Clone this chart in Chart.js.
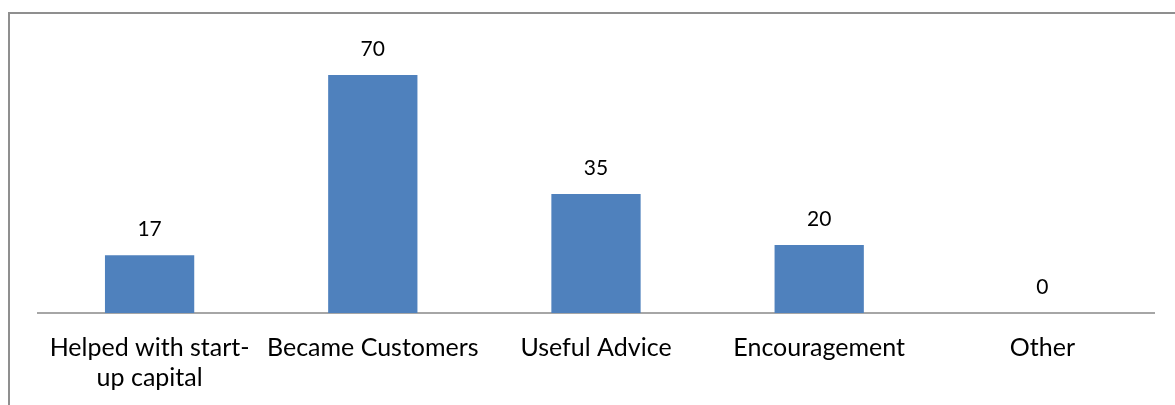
<!DOCTYPE html>
<html>
<head>
<meta charset="utf-8">
<script src="https://cdn.jsdelivr.net/npm/chart.js@4.4.0/dist/chart.umd.min.js"></script>
<style>
  html, body { margin: 0; padding: 0; background: #fff; }
  body { width: 1175px; height: 405px; position: relative; overflow: hidden; }
  .frame {
    position: absolute; left: 8px; top: 12px; width: 1200px; height: 420px;
    border-left: 2px solid #8f8f8f; border-top: 2px solid #8f8f8f;
  }
  .wrap { position: absolute; left: 0; top: 0; width: 1175px; height: 405px; }
</style>
</head>
<body>
<div class="frame"></div>
<div class="wrap"><canvas id="chart"></canvas></div>
<script>
const categories = [
  ['Helped with start-', 'up capital'],
  'Became Customers',
  'Useful Advice',
  'Encouragement',
  'Other'
];
const counts = [17, 70, 35, 20, 0];

const FONT = 'Lato, "Open Sans", sans-serif';

// prints each bar's value just above it
const valueLabels = {
  id: 'valueLabels',
  afterDatasetsDraw(chart) {
    const ctx = chart.ctx;
    const meta = chart.getDatasetMeta(0);
    ctx.save();
    ctx.font = '21px ' + FONT;
    ctx.fillStyle = '#000';
    ctx.textAlign = 'center';
    ctx.textBaseline = 'alphabetic';
    meta.data.forEach((bar, i) => {
      ctx.fillText(String(counts[i]), bar.x, bar.y - 19);
    });
    ctx.restore();
  }
};

new Chart(document.getElementById('chart'), {
  type: 'bar',
  data: {
    labels: categories,
    datasets: [{
      data: counts,
      backgroundColor: '#4f81bd',
      categoryPercentage: 1,
      barPercentage: 0.4
    }]
  },
  options: {
    responsive: true,
    maintainAspectRatio: false,
    animation: false,
    layout: { padding: { left: 38, right: 21, top: 41, bottom: 0 } },
    scales: {
      x: {
        grid: { display: false, drawTicks: false },
        border: { display: true, color: '#a6a6a6', width: 2 },
        ticks: {
          color: '#000',
          padding: 20,
          maxRotation: 0,
          autoSkip: false,
          font: { family: FONT, size: 25, lineHeight: 1.2 }
        },
        afterFit(scale) { scale.height = 92; }
      },
      y: {
        display: false,
        min: 0,
        max: 80
      }
    },
    plugins: {
      legend: { display: false },
      tooltip: { enabled: false }
    }
  },
  plugins: [valueLabels]
});
</script>
</body>
</html>
